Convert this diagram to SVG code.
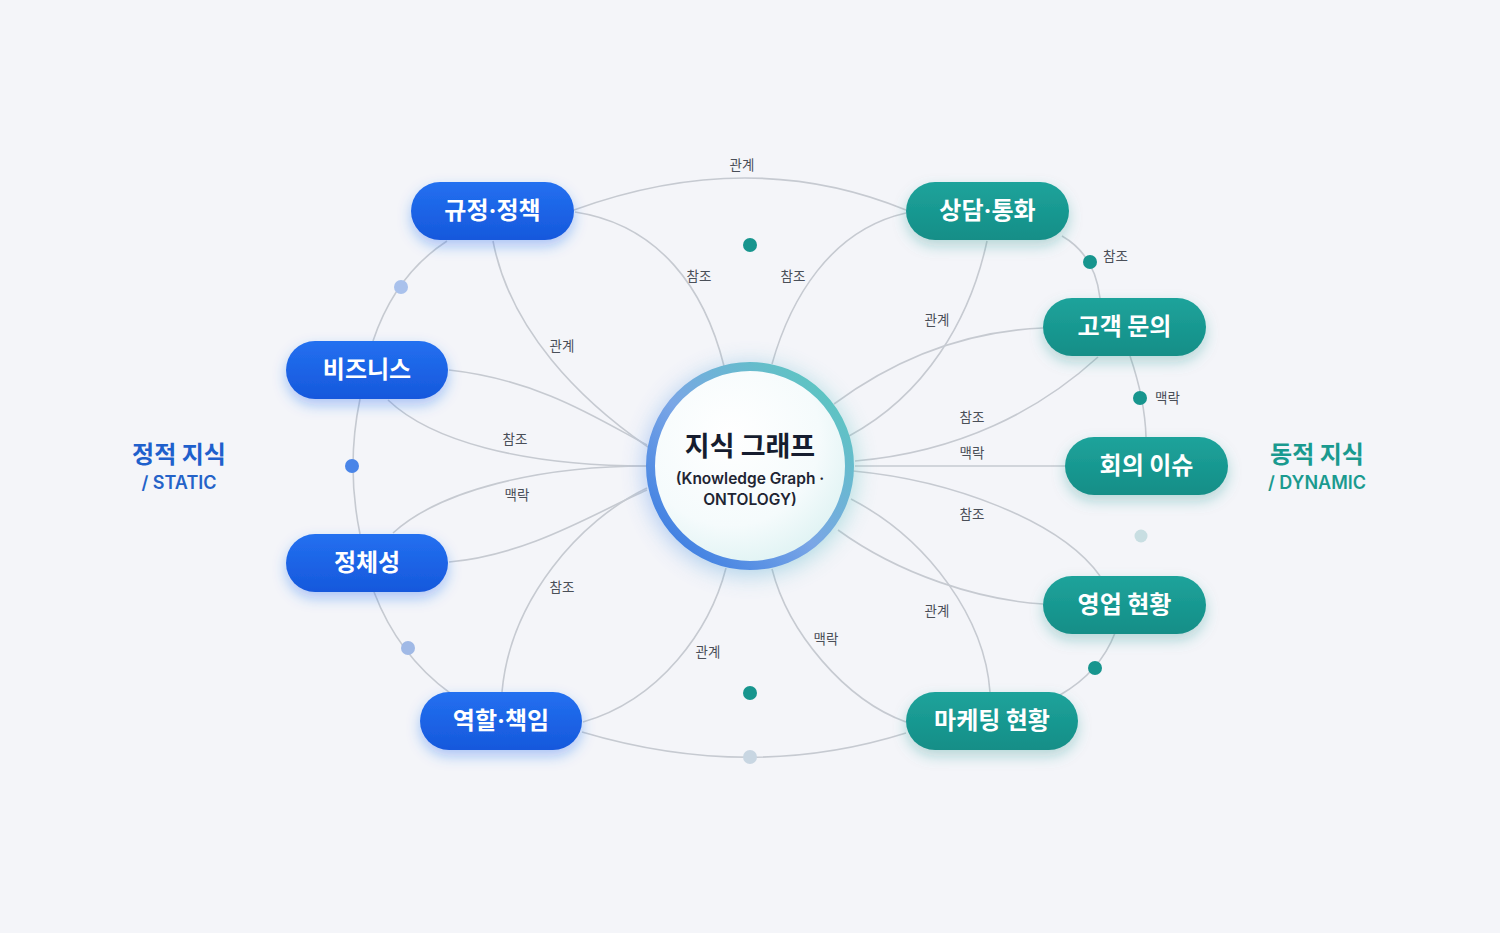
<svg xmlns="http://www.w3.org/2000/svg" width="1500" height="933" viewBox="0 0 1500 933">
<defs>
<style>
.bg{fill:#f4f5f9}
.edge{fill:none;stroke:#c6cad1;stroke-width:1.6}
.lbl{font-family:"Noto Sans CJK KR","Noto Sans",sans-serif;font-size:13.5px;fill:#4a4f58;text-anchor:middle}
.lbls{font-family:"Noto Sans CJK KR","Noto Sans",sans-serif;font-size:13.5px;fill:#4a4f58;text-anchor:start}
.ptxt{font-family:"Noto Sans CJK KR","Noto Sans",sans-serif;font-size:24px;font-weight:700;fill:#ffffff;text-anchor:middle}
.dot{font-family:Inter,"Noto Sans",sans-serif}
.blue{fill:url(#gBlue)}
.teal{fill:url(#gTeal)}
.side{font-family:"Noto Sans CJK KR","Noto Sans",sans-serif;font-weight:700;text-anchor:middle}
.sideL{font-family:Inter,"Noto Sans",sans-serif;font-weight:600;text-anchor:middle}
.dT{fill:#17958e}
</style>
<linearGradient id="gBlue" x1="0" y1="0" x2="0" y2="1">
<stop offset="0" stop-color="#2370f0"/>
<stop offset="1" stop-color="#1658dc"/>
</linearGradient>
<linearGradient id="gTeal" x1="0" y1="0" x2="0" y2="1">
<stop offset="0" stop-color="#1ea39b"/>
<stop offset="1" stop-color="#138e87"/>
</linearGradient>
<linearGradient id="gRing" x1="0.1" y1="0.9" x2="0.9" y2="0.1">
<stop offset="0" stop-color="#3e7fe2"/>
<stop offset="0.45" stop-color="#7aa6e6"/>
<stop offset="1" stop-color="#5cc6c0"/>
</linearGradient>
<radialGradient id="gCore" cx="0.4" cy="0.35" r="0.75">
<stop offset="0" stop-color="#ffffff"/>
<stop offset="0.6" stop-color="#f5fbfc"/>
<stop offset="1" stop-color="#d8f0f0"/>
</radialGradient>
<linearGradient id="gGlow" x1="0" y1="0" x2="1" y2="0">
<stop offset="0" stop-color="#4a86ea"/>
<stop offset="1" stop-color="#4fc0b8"/>
</linearGradient>
<filter id="shB" x="-30%" y="-50%" width="160%" height="220%">
<feDropShadow dx="0" dy="6" stdDeviation="7" flood-color="#1f66f0" flood-opacity="0.35"/>
</filter>
<filter id="shT" x="-30%" y="-50%" width="160%" height="220%">
<feDropShadow dx="0" dy="6" stdDeviation="7" flood-color="#139088" flood-opacity="0.3"/>
</filter>
<filter id="glow" x="-50%" y="-50%" width="200%" height="200%">
<feGaussianBlur stdDeviation="12"/>
</filter>
</defs>
<rect class="bg" x="0" y="0" width="1500" height="933"/>

<g id="connectors">
<path class="edge" d="M574,210 Q750,146 906,210"/>
<path class="edge" d="M575,212 C660,225 705,290 724,366"/>
<path class="edge" d="M493,241 C510,330 580,400 648,447"/>
<path class="edge" d="M906,213 C830,230 790,300 772,364"/>
<path class="edge" d="M987,241 C970,320 925,395 849,436"/>
<path class="edge" d="M1062,236 Q1095,255 1100,298"/>
<path class="edge" d="M1043,328 C950,332 880,370 834,404"/>
<path class="edge" d="M1098,357 C1040,410 960,452 855,461"/>
<path class="edge" d="M1130,356 Q1145,400 1146,437"/>
<path class="edge" d="M855,466 L1065,466"/>
<path class="edge" d="M853,471 C950,480 1060,520 1100,576"/>
<path class="edge" d="M838,530 C900,575 980,600 1043,604"/>
<path class="edge" d="M851,499 C930,540 985,620 990,692"/>
<path class="edge" d="M772,569 C788,632 845,700 906,722"/>
<path class="edge" d="M1115,633 Q1100,672 1060,695"/>
<path class="edge" d="M582,732 Q750,782 906,733"/>
<path class="edge" d="M583,722 C660,700 710,630 726,568"/>
<path class="edge" d="M502,692 C510,600 580,520 647,488"/>
<path class="edge" d="M449,370 C540,380 600,420 647,445"/>
<path class="edge" d="M388,400 C430,440 520,466 647,466"/>
<path class="edge" d="M393,533 C440,490 540,466 647,466"/>
<path class="edge" d="M449,562 C530,555 600,510 647,490"/>
<path class="edge" d="M447,241 Q395,275 373,341"/>
<path class="edge" d="M360,399 Q346,466 360,534"/>
<path class="edge" d="M374,592 Q398,655 450,693"/>

<circle cx="401" cy="287" r="7" fill="#a9c1ec"/>
<circle cx="352" cy="466" r="7" fill="#4a85e8"/>
<circle cx="408" cy="648" r="7" fill="#a0b9e6"/>
<circle cx="750" cy="757" r="7" fill="#c8d6e2"/>
<circle class="dT" cx="750" cy="245" r="7"/>
<circle class="dT" cx="750" cy="693" r="7"/>
<circle cx="1141" cy="536" r="6.5" fill="#c8dee2"/>
<circle class="dT" cx="1090" cy="262" r="7"/>
<circle class="dT" cx="1140" cy="398" r="7"/>
<circle class="dT" cx="1095" cy="668" r="7"/>

<text class="lbl" x="742" y="170">관계</text>
<text class="lbl" x="699" y="281">참조</text>
<text class="lbl" x="793" y="281">참조</text>
<text class="lbl" x="562" y="351">관계</text>
<text class="lbl" x="937" y="325">관계</text>
<text class="lbls" x="1103" y="261">참조</text>
<text class="lbls" x="1155" y="403">맥락</text>
<text class="lbl" x="972" y="422">참조</text>
<text class="lbl" x="972" y="458">맥락</text>
<text class="lbl" x="515" y="444">참조</text>
<text class="lbl" x="517" y="500">맥락</text>
<text class="lbl" x="972" y="519">참조</text>
<text class="lbl" x="562" y="592">참조</text>
<text class="lbl" x="937" y="616">관계</text>
<text class="lbl" x="826" y="644">맥락</text>
<text class="lbl" x="708" y="657">관계</text>
</g>

<g id="center">
<circle cx="750" cy="470" r="104" fill="url(#gGlow)" opacity="0.45" filter="url(#glow)"/>
<circle cx="750" cy="466" r="99.5" fill="url(#gCore)" stroke="url(#gRing)" stroke-width="9"/>
<text x="750" y="456" text-anchor="middle" font-family="'Noto Sans CJK KR','Noto Sans',sans-serif" font-size="27" font-weight="700" fill="#161d2f">지식 그래프</text>
<text x="750" y="484" text-anchor="middle" font-family="Inter,'Noto Sans',sans-serif" font-size="15.5" font-weight="600" fill="#1f2533">(Knowledge Graph ·</text>
<text x="750" y="505" text-anchor="middle" font-family="Inter,'Noto Sans',sans-serif" font-size="15.5" font-weight="600" fill="#1f2533">ONTOLOGY)</text>
</g>

<g id="n-policy"><rect class="blue" filter="url(#shB)" x="411" y="182" width="163" height="58" rx="29"/><text class="ptxt" x="492.5" y="219">규정<tspan class="dot">·</tspan>정책</text></g>
<g id="n-business"><rect class="blue" filter="url(#shB)" x="286" y="341" width="162" height="58" rx="29"/><text class="ptxt" x="367" y="378">비즈니스</text></g>
<g id="n-identity"><rect class="blue" filter="url(#shB)" x="286" y="534" width="162" height="58" rx="29"/><text class="ptxt" x="367" y="571">정체성</text></g>
<g id="n-role"><rect class="blue" filter="url(#shB)" x="420" y="692" width="162" height="58" rx="29"/><text class="ptxt" x="501" y="729">역할<tspan class="dot">·</tspan>책임</text></g>

<g id="n-call"><rect class="teal" filter="url(#shT)" x="906" y="182" width="163" height="58" rx="29"/><text class="ptxt" x="987.5" y="219">상담<tspan class="dot">·</tspan>통화</text></g>
<g id="n-inquiry"><rect class="teal" filter="url(#shT)" x="1043" y="298" width="163" height="58" rx="29"/><text class="ptxt" x="1124.5" y="335">고객 문의</text></g>
<g id="n-meeting"><rect class="teal" filter="url(#shT)" x="1065" y="437" width="163" height="58" rx="29"/><text class="ptxt" x="1146.5" y="474">회의 이슈</text></g>
<g id="n-sales"><rect class="teal" filter="url(#shT)" x="1043" y="576" width="163" height="58" rx="29"/><text class="ptxt" x="1124.5" y="613">영업 현황</text></g>
<g id="n-marketing"><rect class="teal" filter="url(#shT)" x="906" y="692" width="172" height="58" rx="29"/><text class="ptxt" x="992" y="729">마케팅 현황</text></g>

<g id="static-label">
<text class="side" x="179" y="463" font-size="24" fill="#1f60cc">정적 지식</text>
<text class="sideL" x="179" y="489" font-size="18" fill="#2462c8">/ STATIC</text>
</g>
<g id="dynamic-label">
<text class="side" x="1317" y="463" font-size="24" fill="#1a9a8f">동적 지식</text>
<text class="sideL" x="1317" y="489" font-size="18" fill="#1a9a8f">/ DYNAMIC</text>
</g>
</svg>
